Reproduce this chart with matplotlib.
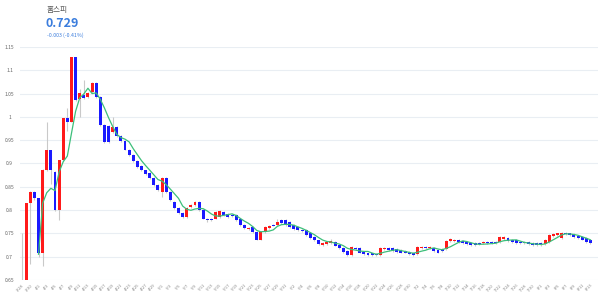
import matplotlib
matplotlib.use("Agg")
import matplotlib.pyplot as plt
import numpy as np
import pandas as pd

title = "홈스피"
price_text = "0.729"
change_text = "-0.003 (-0.41%)"

opens = [0.30, 0.34, 0.815, 0.839, 0.825, 0.708, 0.886, 0.929, 0.882, 0.800,
         0.907, 0.997, 0.990, 1.129, 1.038, 1.047, 1.042, 1.054, 1.072, 1.043,
         0.983, 0.980, 0.967, 0.978, 0.960, 0.948, 0.930, 0.918, 0.905, 0.895,
         0.885, 0.880, 0.868, 0.854, 0.839, 0.868, 0.839, 0.818, 0.804, 0.794,
         0.786, 0.806, 0.811, 0.818, 0.800, 0.782, 0.781, 0.782, 0.786, 0.797,
         0.791, 0.790, 0.790, 0.780, 0.768, 0.760, 0.763, 0.754, 0.737, 0.754,
         0.761, 0.768, 0.768, 0.779, 0.779, 0.775, 0.768, 0.764, 0.758, 0.757,
         0.750, 0.743, 0.735, 0.725, 0.727, 0.730, 0.732, 0.725, 0.718, 0.713,
         0.704, 0.719, 0.718, 0.711, 0.707, 0.707, 0.705, 0.704, 0.717, 0.718,
         0.718, 0.716, 0.714, 0.713, 0.711, 0.709, 0.706, 0.718, 0.721, 0.718,
         0.719, 0.714, 0.716, 0.716, 0.734, 0.734, 0.737, 0.734, 0.732, 0.730,
         0.729, 0.729, 0.729, 0.731, 0.731, 0.732, 0.731, 0.739, 0.741, 0.737,
         0.736, 0.732, 0.732, 0.732, 0.730, 0.729, 0.729, 0.727, 0.732, 0.745,
         0.747, 0.741, 0.752, 0.750, 0.748, 0.745, 0.743, 0.741, 0.737]
highs = [0.75, 0.815, 0.840, 0.842, 0.826, 0.888, 0.990, 0.930, 0.884, 0.908,
         0.998, 1.020, 1.129, 1.129, 1.060, 1.080, 1.053, 1.074, 1.074, 1.044,
         0.985, 0.982, 1.000, 0.980, 0.962, 0.950, 0.932, 0.920, 0.907, 0.897,
         0.887, 0.882, 0.870, 0.856, 0.870, 0.870, 0.841, 0.820, 0.806, 0.796,
         0.806, 0.813, 0.820, 0.820, 0.802, 0.784, 0.783, 0.799, 0.801, 0.799,
         0.793, 0.792, 0.792, 0.782, 0.770, 0.764, 0.765, 0.756, 0.756, 0.766,
         0.768, 0.770, 0.782, 0.781, 0.781, 0.777, 0.770, 0.766, 0.760, 0.759,
         0.752, 0.745, 0.737, 0.731, 0.734, 0.739, 0.734, 0.727, 0.720, 0.715,
         0.723, 0.721, 0.720, 0.713, 0.709, 0.709, 0.707, 0.721, 0.721, 0.720,
         0.720, 0.718, 0.716, 0.715, 0.713, 0.711, 0.723, 0.723, 0.723, 0.723,
         0.721, 0.716, 0.718, 0.736, 0.740, 0.739, 0.739, 0.736, 0.734, 0.732,
         0.731, 0.731, 0.733, 0.733, 0.733, 0.734, 0.745, 0.744, 0.743, 0.739,
         0.738, 0.734, 0.734, 0.734, 0.732, 0.731, 0.731, 0.738, 0.749, 0.751,
         0.752, 0.754, 0.754, 0.752, 0.750, 0.747, 0.745, 0.743, 0.739]
lows = [0.30, 0.34, 0.685, 0.822, 0.700, 0.680, 0.884, 0.855, 0.798, 0.779,
        0.905, 0.970, 0.988, 1.034, 1.000, 1.038, 1.040, 1.052, 1.041, 0.980,
        0.945, 0.945, 0.965, 0.956, 0.946, 0.928, 0.916, 0.903, 0.891, 0.883,
        0.875, 0.867, 0.852, 0.841, 0.828, 0.837, 0.820, 0.802, 0.791, 0.784,
        0.784, 0.804, 0.809, 0.798, 0.780, 0.775, 0.777, 0.780, 0.784, 0.788,
        0.784, 0.786, 0.777, 0.766, 0.759, 0.758, 0.752, 0.735, 0.735, 0.752,
        0.759, 0.765, 0.766, 0.770, 0.766, 0.762, 0.757, 0.755, 0.754, 0.745,
        0.738, 0.734, 0.725, 0.723, 0.725, 0.728, 0.722, 0.716, 0.709, 0.702,
        0.702, 0.715, 0.707, 0.704, 0.702, 0.702, 0.702, 0.702, 0.715, 0.712,
        0.711, 0.709, 0.707, 0.707, 0.703, 0.702, 0.704, 0.716, 0.717, 0.716,
        0.711, 0.707, 0.711, 0.714, 0.732, 0.732, 0.730, 0.727, 0.725, 0.723,
        0.723, 0.725, 0.727, 0.727, 0.727, 0.727, 0.729, 0.737, 0.732, 0.730,
        0.728, 0.727, 0.727, 0.725, 0.723, 0.723, 0.723, 0.725, 0.730, 0.743,
        0.745, 0.739, 0.746, 0.744, 0.741, 0.739, 0.735, 0.730, 0.727]
closes = [0.34, 0.815, 0.839, 0.825, 0.708, 0.886, 0.929, 0.886, 0.800, 0.907,
          0.997, 0.990, 1.129, 1.036, 1.051, 1.040, 1.051, 1.072, 1.043, 0.983,
          0.947, 0.947, 0.978, 0.958, 0.948, 0.930, 0.918, 0.905, 0.893, 0.885,
          0.877, 0.869, 0.854, 0.843, 0.868, 0.839, 0.822, 0.804, 0.793, 0.786,
          0.804, 0.811, 0.818, 0.800, 0.782, 0.779, 0.779, 0.797, 0.799, 0.790,
          0.786, 0.788, 0.779, 0.768, 0.761, 0.762, 0.754, 0.737, 0.754, 0.764,
          0.766, 0.767, 0.775, 0.772, 0.768, 0.764, 0.759, 0.757, 0.756, 0.747,
          0.740, 0.736, 0.727, 0.729, 0.732, 0.734, 0.724, 0.718, 0.711, 0.704,
          0.721, 0.717, 0.709, 0.706, 0.704, 0.704, 0.704, 0.719, 0.719, 0.714,
          0.713, 0.711, 0.709, 0.709, 0.705, 0.704, 0.721, 0.721, 0.719, 0.721,
          0.713, 0.709, 0.713, 0.734, 0.738, 0.737, 0.732, 0.729, 0.727, 0.725,
          0.725, 0.727, 0.731, 0.729, 0.729, 0.729, 0.743, 0.742, 0.734, 0.732,
          0.730, 0.729, 0.729, 0.727, 0.725, 0.725, 0.725, 0.736, 0.747, 0.749,
          0.750, 0.752, 0.748, 0.746, 0.743, 0.741, 0.737, 0.732, 0.729]

dates = pd.date_range("2021-03-28", periods=len(closes), freq="D")
date_labels = [f"{d.month}/{d.day}" for d in dates]

y_ticks = [0.65, 0.7, 0.75, 0.8, 0.85, 0.9, 0.95, 1.0, 1.05, 1.1, 1.15]
y_tick_labels = ["0.65", "0.7", "0.75", "0.8", "0.85", "0.9", "0.95", "1", "1.05", "1.1", "1.15"]

RED = "#ff1a1a"
BLUE = "#1a1aff"
GREEN = "#3cbf7a"

plt.rcParams['font.family'] = ['Noto Sans CJK KR', 'DejaVu Sans']

fig = plt.figure(figsize=(6.0, 2.97), dpi=100)
ax = fig.add_axes([0.0333, 0.057, 0.9637, 0.785])

o = np.array(opens); h = np.array(highs); l = np.array(lows); c = np.array(closes)
x = np.arange(len(c))
up = c >= o
colors = np.where(up, RED, BLUE)

ax.vlines(x, l, h, color="#c9c9c9", linewidth=0.8, zorder=2)
ax.bar(x, np.abs(c - o), bottom=np.minimum(o, c), width=0.72, color=colors,
       linewidth=0, zorder=3)

ma = pd.Series(c).rolling(5).mean()
ax.plot(x, ma, color=GREEN, linewidth=0.9, zorder=4)

ax.set_ylim(0.65, 1.15)
ax.set_xlim(-0.5, len(c) + 0.9)
ax.set_yticks(y_ticks)
ax.set_yticklabels(y_tick_labels, fontsize=3.6, color="#666666", ha="center")
ax.tick_params(axis="y", length=0, pad=7.5)
ax.set_xticks(x[::2])
ax.set_xticklabels(date_labels[::2], fontsize=3.0, color="#888888", rotation=45,
                   ha="right", rotation_mode="anchor")
ax.tick_params(axis="x", length=0, pad=2)
ax.grid(axis="y", color="#e9eef3", linewidth=0.8, zorder=0)
ax.set_axisbelow(True)
for s in ax.spines.values():
    s.set_visible(False)

fig.text(47 / 600, 1 - 10 / 297, title, fontsize=5.5, color="#555555", va="center", ha="left")
fig.text(46 / 600, 1 - 23.5 / 297, price_text, fontsize=9, color="#3b7ddd",
         fontweight="bold", va="center", ha="left")
fig.text(47 / 600, 1 - 35.5 / 297, change_text, fontsize=3.8, color="#3b7ddd", va="center", ha="left")

fig.savefig("out.png", dpi=100)
